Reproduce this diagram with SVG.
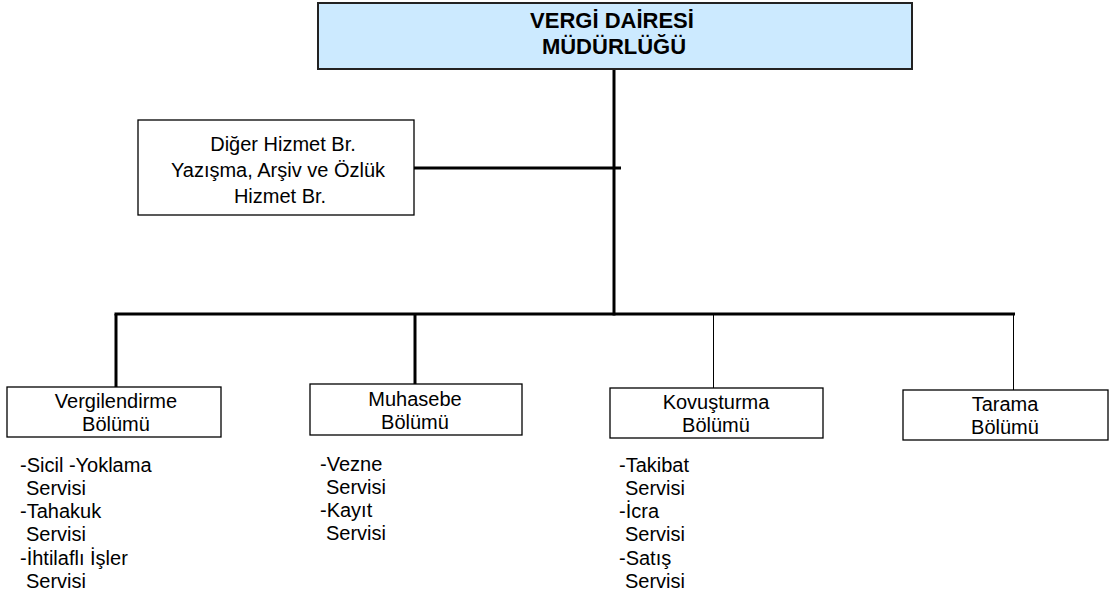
<svg xmlns="http://www.w3.org/2000/svg" width="1112" height="601" viewBox="0 0 1112 601">
<style>
.box{fill:#ffffff;stroke:#000000;stroke-width:1.3}
.top{fill:#cceaff;stroke:#222222;stroke-width:2}
.t{font-family:"Liberation Sans",Arial,sans-serif;font-size:20px;fill:#000}
.c{text-anchor:middle}
.b{font-family:"Liberation Sans",Arial,sans-serif;font-size:22px;font-weight:bold;fill:#000;text-anchor:middle}
.thick{stroke:#000;stroke-width:3;fill:none}
.thin{stroke:#000;stroke-width:1;fill:none}
</style>
<rect width="1112" height="601" fill="#ffffff"/>
<g id="connectors">
<line class="thick" x1="614" y1="69" x2="614" y2="315.5"/>
<line class="thick" x1="414" y1="168" x2="621" y2="168"/>
<line class="thick" x1="114.5" y1="314" x2="1015" y2="314"/>
<line class="thick" x1="116" y1="314" x2="116" y2="387"/>
<line class="thick" x1="415" y1="314" x2="415" y2="384"/>
<line class="thin" x1="713.5" y1="314" x2="713.5" y2="388"/>
<line class="thin" x1="1013.5" y1="314" x2="1013.5" y2="390"/>
</g>
<g id="mudurluk">
<rect class="top" x="318" y="3" width="594" height="66"/>
<text class="b" x="612" y="28">VERGİ DAİRESİ</text>
<text class="b" x="614" y="54">MÜDÜRLÜĞÜ</text>
</g>
<g id="diger">
<rect class="box" x="138" y="120" width="276" height="95"/>
<text class="t c" x="283" y="151">Diğer Hizmet Br.</text>
<text class="t c" x="278" y="177">Yazışma, Arşiv ve Özlük</text>
<text class="t c" x="280" y="203">Hizmet Br.</text>
</g>
<g id="vergilendirme">
<rect class="box" x="7" y="387" width="214" height="50"/>
<text class="t c" x="116" y="408">Vergilendirme</text>
<text class="t c" x="116" y="431">Bölümü</text>
<text class="t" x="20" y="472">-Sicil -Yoklama</text>
<text class="t" x="26" y="495">Servisi</text>
<text class="t" x="20" y="518">-Tahakuk</text>
<text class="t" x="26" y="541">Servisi</text>
<text class="t" x="20" y="565">-İhtilaflı İşler</text>
<text class="t" x="26" y="588">Servisi</text>
</g>
<g id="muhasebe">
<rect class="box" x="310" y="384" width="212" height="51"/>
<text class="t c" x="415" y="406">Muhasebe</text>
<text class="t c" x="415" y="429">Bölümü</text>
<text class="t" x="320" y="471">-Vezne</text>
<text class="t" x="326" y="494">Servisi</text>
<text class="t" x="320" y="517">-Kayıt</text>
<text class="t" x="326" y="540">Servisi</text>
</g>
<g id="kovusturma">
<rect class="box" x="610" y="388" width="213" height="50"/>
<text class="t c" x="716" y="409">Kovuşturma</text>
<text class="t c" x="716" y="432">Bölümü</text>
<text class="t" x="619" y="472">-Takibat</text>
<text class="t" x="625" y="495">Servisi</text>
<text class="t" x="619" y="518">-İcra</text>
<text class="t" x="625" y="541">Servisi</text>
<text class="t" x="619" y="565">-Satış</text>
<text class="t" x="625" y="588">Servisi</text>
</g>
<g id="tarama">
<rect class="box" x="903" y="390" width="205" height="50"/>
<text class="t c" x="1005" y="411">Tarama</text>
<text class="t c" x="1005" y="434">Bölümü</text>
</g>
</svg>
